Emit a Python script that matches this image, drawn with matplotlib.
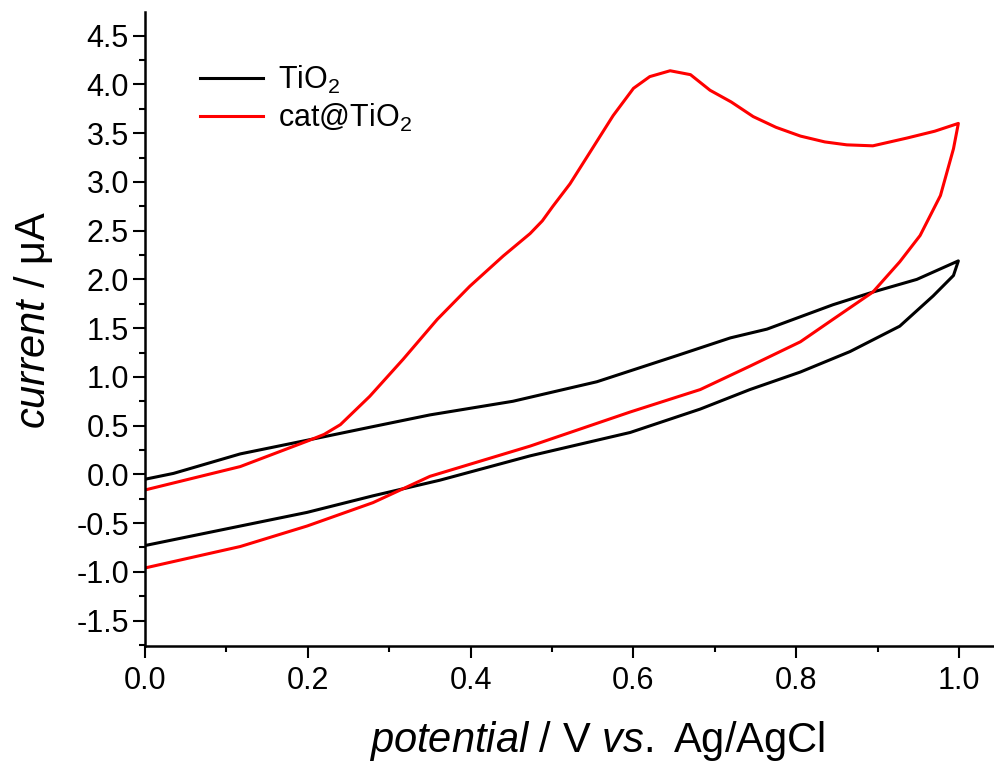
import numpy as np
import matplotlib
matplotlib.use("Agg")
import matplotlib.pyplot as plt
from matplotlib.ticker import MultipleLocator

plt.rcParams['font.family'] = ['Liberation Sans', 'DejaVu Sans']
plt.rcParams['mathtext.fontset'] = 'custom'
plt.rcParams['mathtext.rm'] = 'Liberation Sans'
plt.rcParams['mathtext.it'] = 'Liberation Sans:italic'

# TiO2: anodic branch (0 -> 1 V) then cathodic branch (1 -> 0 V)
tio2_x = [0.0, 0.035, 0.117, 0.199, 0.28, 0.35, 0.452, 0.555, 0.654, 0.719, 0.764,
          0.845, 0.894, 0.948, 0.999,
          0.993, 0.968, 0.927, 0.866, 0.805, 0.743, 0.682, 0.596, 0.473, 0.362, 0.28,
          0.199, 0.117, 0.0]
tio2_y = [-0.05, 0.01, 0.21, 0.35, 0.49, 0.61, 0.75, 0.95, 1.22, 1.40, 1.49,
          1.74, 1.87, 2.00, 2.19,
          2.04, 1.83, 1.52, 1.26, 1.05, 0.87, 0.67, 0.43, 0.19, -0.06, -0.22,
          -0.39, -0.53, -0.73]

# cat@TiO2
cat_x = [0.0, 0.117, 0.199, 0.22, 0.24, 0.276, 0.317, 0.359, 0.399, 0.44, 0.473, 0.488,
         0.501, 0.522, 0.547, 0.575, 0.6, 0.62, 0.645, 0.67, 0.694, 0.72, 0.747, 0.775,
         0.805, 0.835, 0.862, 0.894, 0.936, 0.97, 0.999,
         0.993, 0.977, 0.952, 0.927, 0.894, 0.845, 0.805, 0.743, 0.682, 0.596, 0.473,
         0.35, 0.28, 0.199, 0.117, 0.0]
cat_y = [-0.16, 0.08, 0.34, 0.41, 0.51, 0.80, 1.18, 1.59, 1.93, 2.24, 2.47, 2.60,
         2.75, 2.98, 3.31, 3.68, 3.96, 4.08, 4.14, 4.10, 3.94, 3.82, 3.67, 3.56,
         3.47, 3.41, 3.38, 3.37, 3.45, 3.52, 3.60,
         3.34, 2.86, 2.45, 2.18, 1.87, 1.59, 1.36, 1.11, 0.87, 0.64, 0.29,
         -0.02, -0.29, -0.53, -0.74, -0.96]

fig = plt.figure(figsize=(9.95, 7.66), dpi=100)
ax = fig.add_axes([0.1457, 0.1567, 0.8543, 0.8273])

ax.plot(tio2_x, tio2_y, color='black', lw=2.2, label='TiO$_2$')
ax.plot(cat_x, cat_y, color='#ff0000', lw=2.2, label='cat@TiO$_2$')

ax.set_xlim(0, 1.044)
ax.set_ylim(-1.76, 4.74)
ax.xaxis.set_major_locator(MultipleLocator(0.2))
ax.xaxis.set_minor_locator(MultipleLocator(0.1))
ax.yaxis.set_major_locator(MultipleLocator(0.5))
ax.yaxis.set_minor_locator(MultipleLocator(0.25))
ax.xaxis.set_major_formatter(lambda v, p: f"{v:.1f}")
ax.yaxis.set_major_formatter(lambda v, p: f"{v:.1f}")

for s in ['top', 'right']:
    ax.spines[s].set_visible(False)
for s in ['left', 'bottom']:
    ax.spines[s].set_linewidth(1.8)

ax.tick_params(which='major', direction='out', length=8.5, width=1.5, labelsize=22, pad=3)
ax.tick_params(which='minor', direction='out', length=4, width=1.5)
ax.tick_params(axis='x', which='major', pad=6)

ax.set_xlabel(r"$\it{potential}$ / V $\it{vs.}$ Ag/AgCl", fontsize=30)
ax.set_ylabel(r"$\it{current}$ / μA", fontsize=30)
ax.xaxis.set_label_coords(0.532, -0.116)
ax.yaxis.set_label_coords(-0.106, 0.514)

ax.legend(loc='upper left', bbox_to_anchor=(0.0506, 0.9385), frameon=False, fontsize=22,
          handlelength=2.06, handletextpad=0.5, labelspacing=0.2, borderaxespad=0)

fig.savefig("out.png", dpi=100)
